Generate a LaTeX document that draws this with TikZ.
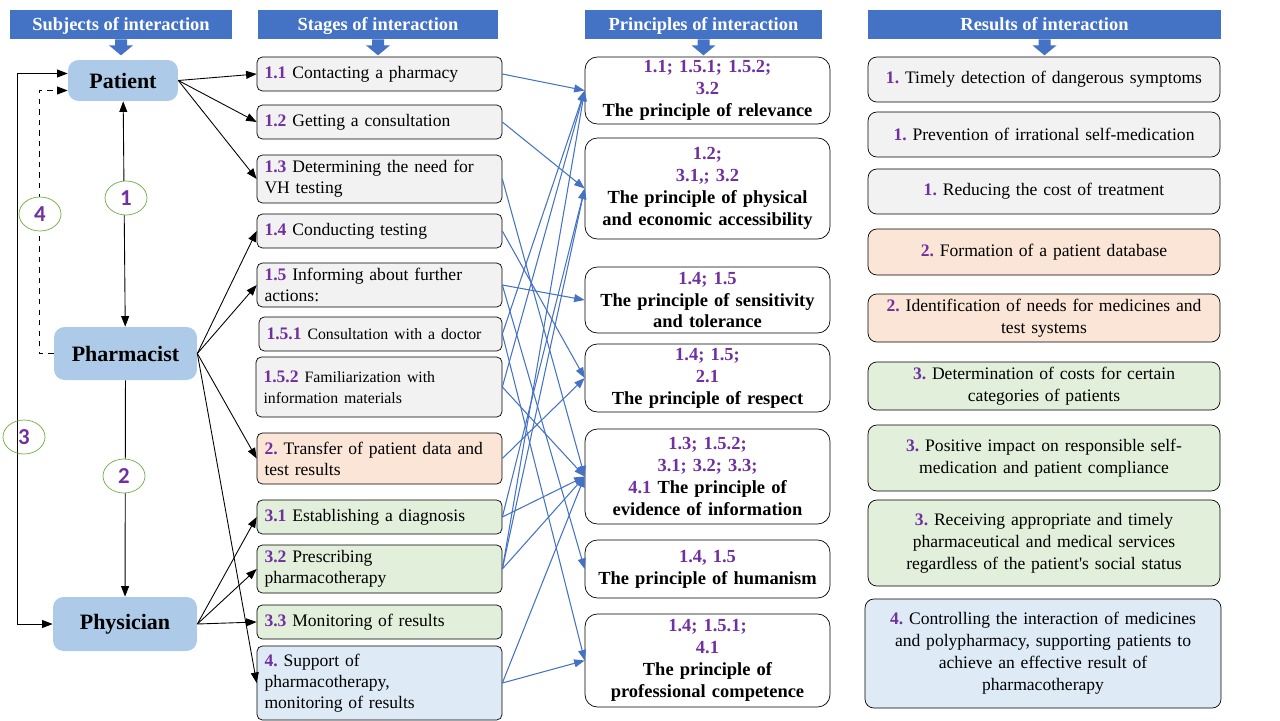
\documentclass[tikz,border=0pt]{standalone}
\usepackage{fontspec}
\setmainfont{Liberation Serif}
\newfontfamily\tagfont{Carlito}
\usepackage{xcolor}
\usetikzlibrary{shapes,arrows.meta,positioning,calc}

\definecolor{hdrblue}{HTML}{4472C4}
\definecolor{subjblue}{HTML}{ADCBE9}
\definecolor{greybox}{HTML}{F2F2F2}
\definecolor{peachbox}{HTML}{FBE5D6}
\definecolor{greenbox}{HTML}{E2EFDA}
\definecolor{bluebox}{HTML}{DEEBF7}
\definecolor{numpurple}{HTML}{7030A0}
\definecolor{tagring}{HTML}{70AD47}

\newcommand{\nm}[1]{\textcolor{numpurple}{\textbf{#1}}}
\frenchspacing

\begin{document}
\begin{tikzpicture}[x=0.02cm, y=-0.02cm, font=\fontsize{10}{12}\selectfont, >={Triangle[length=6pt,width=4.5pt]}]
\tikzstyle{header} = [rectangle, fill=hdrblue, text=white, font=\fontsize{10.5}{12}\selectfont\bfseries, minimum height=0.58cm, inner sep=0pt, text height=1.9ex, text depth=0.3ex]
\tikzstyle{subject} = [rectangle, fill=subjblue, rounded corners=6pt, font=\fontsize{12.5}{15}\selectfont\bfseries]
\tikzstyle{stage} = [rectangle, draw, fill=greybox, rounded corners=3pt, align=left, text width=4.6cm, inner xsep=0.15cm, inner ysep=1pt, minimum height=0.68cm]
\tikzstyle{principle} = [rectangle, draw, rounded corners=7pt, align=center, text width=4.7cm, inner xsep=0.1cm, inner ysep=1pt, font=\fontsize{10.5}{12.5}\selectfont\bfseries]
\tikzstyle{result} = [rectangle, draw, rounded corners=5pt, align=center, text width=6.8cm, inner xsep=0.12cm, inner ysep=1pt, font=\fontsize{10}{12.5}\selectfont]
\tikzstyle{numtag} = [ellipse, draw=tagring, fill=white, minimum width=0.84cm, minimum height=0.68cm, inner sep=0pt, text=numpurple, font=\tagfont\fontsize{13}{13}\selectfont\bfseries]
\tikzstyle{blackarrow} = [->, line width=0.5pt]
\tikzstyle{bluearrow} = [->, draw=hdrblue, line width=0.6pt]

\useasboundingbox (0,0) rectangle (1280,720);

% headers
\node [header, minimum width=4.44cm] (h1) at (121,24.5) {Subjects of interaction};
\node [header, minimum width=4.8cm] (h2) at (378,24.5) {Stages of interaction};
\node [header, minimum width=4.74cm] (h3) at (703.5,24.5) {Principles of interaction};
\node [header, minimum width=7.06cm] (h4) at (1044.5,24.5) {Results of interaction};
\foreach \h in {h1,h2,h3,h4}
  \fill [hdrblue] (\h.south) ++(-6,0) -- ++(0,6) -- ++(-6,0) -- ++(12,10) -- ++(12,-10) -- ++(-6,0) -- ++(0,-6) -- cycle;

% subjects
\node [subject, minimum width=2.2cm, minimum height=0.82cm] (pat) at (123,80.5) {Patient};
\node [subject, minimum width=2.86cm, minimum height=1.06cm] (pha) at (125.5,353.5) {Pharmacist};
\node [subject, minimum width=2.88cm, minimum height=1.08cm] (phy) at (125,624) {Physician};

% stages
\node [stage] (s11) at (379.5,74) {\nm{1.1} Contacting a pharmacy};
\node [stage] (s12) at (379.5,122) {\nm{1.2} Getting a consultation};
\node [stage, minimum height=0.96cm] (s13) at (379.5,179) {\nm{1.3} Determining the need for\\VH testing};
\node [stage] (s14) at (379.5,231) {\nm{1.4} Conducting testing};
\node [stage, minimum height=0.88cm] (s15) at (379.5,285) {\nm{1.5} Informing about further\\actions:};
\node [stage, text width=4.56cm] (s151) at (380.5,334) {\nm{1.5.1} {\small Consultation with a doctor}};
\node [stage, text width=4.62cm, minimum height=1.2cm] (s152) at (379,387) {\nm{1.5.2} {\small Familiarization with\\information materials}};
\node [stage, fill=peachbox, minimum height=1.02cm] (s2) at (379.5,458.5) {\nm{2.} Transfer of patient data and\\test results};
\node [stage, fill=greenbox] (s31) at (379.5,517) {\nm{3.1} Establishing a diagnosis};
\node [stage, fill=greenbox, minimum height=0.96cm] (s32) at (379.5,569) {\nm{3.2} Prescribing\\pharmacotherapy};
\node [stage, fill=greenbox] (s33) at (379.5,622) {\nm{3.3} Monitoring of results};
\node [stage, fill=bluebox, minimum height=1.48cm] (s4) at (379.5,683) {\nm{4.} Support of\\pharmacotherapy,\\monitoring of results};

% principles
\node [principle, minimum height=1.34cm] (p1) at (707.5,90.5) {\nm{1.1; 1.5.1; 1.5.2;}\\\nm{3.2}\\The principle of relevance};
\node [principle, minimum height=2.02cm] (p2) at (707.5,188.5) {\nm{1.2;}\\\nm{3.1,; 3.2}\\The principle of physical\\and economic accessibility};
\node [principle, minimum height=1.32cm] (p3) at (707.5,300) {\nm{1.4; 1.5}\\The principle of sensitivity\\and tolerance};
\node [principle, minimum height=1.36cm] (p4) at (707.5,378) {\nm{1.4; 1.5;}\\\nm{2.1}\\The principle of respect};
\node [principle, minimum height=1.9cm] (p5) at (707.5,476.5) {\nm{1.3; 1.5.2;}\\\nm{3.1; 3.2; 3.3;}\\\nm{4.1} The principle of\\evidence of information};
\node [principle, minimum height=1.16cm] (p6) at (707.5,569) {\nm{1.4, 1.5}\\The principle of humanism};
\node [principle, minimum height=1.86cm] (p7) at (707.5,660.5) {\nm{1.4; 1.5.1;}\\\nm{4.1}\\The principle of\\professional competence};

% results
\node [result, fill=greybox, minimum height=0.9cm] (r1) at (1044,79.5) {\nm{1.} Timely detection of dangerous symptoms};
\node [result, fill=greybox, minimum height=0.9cm] (r2) at (1044,134.5) {\nm{1.} Prevention of irrational self-medication};
\node [result, fill=greybox, minimum height=0.9cm] (r3) at (1044,191.5) {\nm{1.} Reducing the cost of treatment};
\node [result, fill=peachbox, minimum height=0.92cm] (r4) at (1044,252) {\nm{2.} Formation of a patient database};
\node [result, fill=peachbox, minimum height=0.96cm] (r5) at (1044,318) {\nm{2.} Identification of needs for medicines and\\test systems};
\node [result, fill=greenbox, minimum height=0.96cm] (r6) at (1044,386) {\nm{3.} Determination of costs for certain\\categories of patients};
\node [result, fill=greenbox, minimum height=1.32cm] (r7) at (1044,458) {\nm{3.} Positive impact on responsible self-\\medication and patient compliance};
\node [result, fill=greenbox, minimum height=1.72cm] (r8) at (1044,543) {\nm{3.} Receiving appropriate and timely\\pharmaceutical and medical services\\regardless of the patient\textquotesingle s social status};
\node [result, fill=bluebox, text width=6.88cm, minimum height=2.18cm] (r9) at (1043,653.5) {\nm{4.} Controlling the interaction of medicines\\and polypharmacy, supporting patients to\\achieve an effective result of\\pharmacotherapy};

% subjects to each other
\draw [blackarrow, <->] (pat) -- (pha);
\draw [blackarrow] (pha) -- (phy);
\draw [blackarrow, dashed] (pha.west) -- ++(-14,0) |- ($(pat.west)+(0,10)$);
\draw [blackarrow, <->] ($(pat.west)+(0,-7)$) -- ++(-50,0) |- (phy.west);
\node [numtag] (t1) at (126,198) {1};
\node [numtag] (t2) at (124,476) {2};
\node [numtag, fill=none] (t3) at (24,437) {3};
\node [numtag] (t4) at (40,214) {4};

% subjects to stages
\foreach \s in {s11,s12,s13}
  \draw [blackarrow] (pat.east) -- (\s.west);
\foreach \s in {s14,s15,s2,s4}
  \draw [blackarrow] (pha.east) -- (\s.west);
\foreach \s in {s31,s32,s33}
  \draw [blackarrow] (phy.east) -- (\s.west);

% stages to principles
\foreach \a/\b in {s11/p1, s12/p2, s13/p5, s14/p4, s15/p3, s15/p6, s151/p1, s151/p7, s152/p1, s152/p5, s2/p4, s31/p2, s31/p5, s32/p1, s32/p2, s32/p5, s4/p5, s4/p7}
  \draw [bluearrow] (\a.east) -- (\b.west);

\end{tikzpicture}
\end{document}
